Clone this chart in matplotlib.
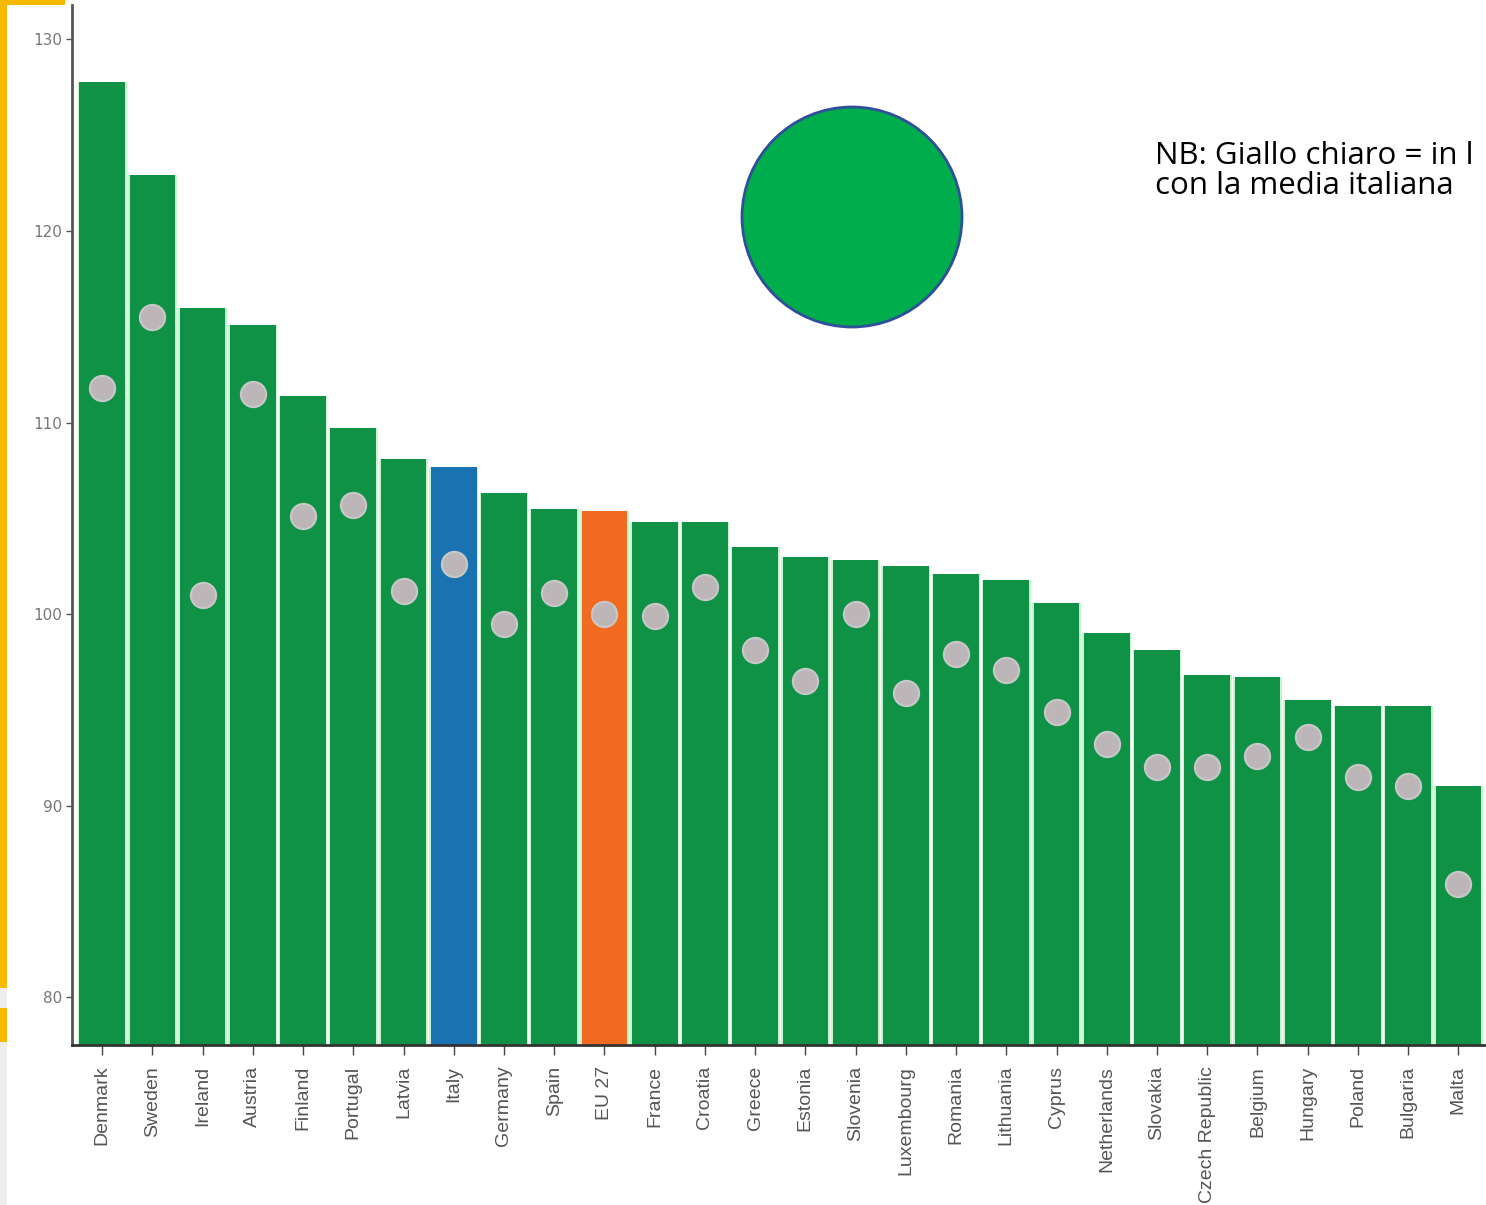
import matplotlib.pyplot as plt
from matplotlib.patches import Circle, Rectangle

countries = ['Denmark', 'Sweden', 'Ireland', 'Austria', 'Finland', 'Portugal', 'Latvia',
             'Italy', 'Germany', 'Spain', 'EU 27', 'France', 'Croatia', 'Greece', 'Estonia',
             'Slovenia', 'Luxembourg', 'Romania', 'Lithuania', 'Cyprus', 'Netherlands',
             'Slovakia', 'Czech Republic', 'Belgium', 'Hungary', 'Poland', 'Bulgaria', 'Malta']
bar_values = [127.8, 122.9, 116.0, 115.1, 111.4, 109.7, 108.1, 107.7, 106.3, 105.5, 105.4,
              104.8, 104.8, 103.5, 103.0, 102.8, 102.5, 102.1, 101.8, 100.6, 99.0, 98.1,
              96.8, 96.7, 95.5, 95.2, 95.2, 91.0]
dot_values = [111.8, 115.5, 101.0, 111.5, 105.1, 105.7, 101.2, 102.6, 99.5, 101.1, 100.0,
              99.9, 101.4, 98.1, 96.5, 100.0, 95.9, 97.9, 97.1, 94.9, 93.2, 92.0, 92.0,
              92.6, 93.6, 91.5, 91.0, 85.9]
y_ticks = [80, 90, 100, 110, 120, 130]

green = '#0f9146'
colors = [green] * len(countries)
colors[countries.index('Italy')] = '#1a72b0'
colors[countries.index('EU 27')] = '#f06a20'

W, H = 14.86, 12.05
fig = plt.figure(figsize=(W, H), dpi=100)
ax = fig.add_axes([72 / 1486, 1 - 1045 / 1205, 1 - 72 / 1486, (1045 - 5) / 1205])

x = list(range(len(countries)))
# mint outline underneath, coloured bars on top
ax.bar(x, bar_values, width=0.97, color='#c6f5d0', zorder=1)
ax.bar(x, bar_values, width=0.91, color=colors, zorder=2)
ax.scatter(x, dot_values, s=330, color='#bdb6b9', edgecolors='#c8c8c8', linewidths=1.5, zorder=3)

ax.set_xlim(-0.6, 27.55)
ax.set_ylim(77.5, 131.8)
ax.set_yticks(y_ticks)
ax.set_yticklabels([str(t) for t in y_ticks], fontsize=11, color='#777777')
ax.set_xticks(x)
ax.set_xticklabels(countries, rotation=90, fontsize=14, color='#555555', family='Liberation Sans')
ax.tick_params(axis='y', length=4, width=1, color='#555555', pad=3)
ax.tick_params(axis='x', length=7, width=1, color='#444444', pad=8)
for side in ['top', 'right']:
    ax.spines[side].set_visible(False)
ax.spines['left'].set_color('#555555')
ax.spines['left'].set_linewidth(2)
ax.spines['bottom'].set_color('#333333')
ax.spines['bottom'].set_linewidth(2)

# big green circle, placed in inches so it stays round
fig.add_artist(Circle((8.52, H - 2.17), 1.10, transform=fig.dpi_scale_trans,
                      facecolor='#00ad4d', edgecolor='#2f4f9a', linewidth=2))
# coloured edge strips on the left
fig.add_artist(Rectangle((0, 1 - 988 / 1205), 7 / 1486, 988 / 1205, transform=fig.transFigure,
                         color='#f7b900', lw=0))
fig.add_artist(Rectangle((0, 1 - 5 / 1205), 65 / 1486, 5 / 1205, transform=fig.transFigure,
                         color='#f7b900', lw=0))
fig.add_artist(Rectangle((0, 1 - 1008 / 1205), 7 / 1486, 20 / 1205, transform=fig.transFigure,
                         color='#eeeeee', lw=0))
fig.add_artist(Rectangle((0, 1 - 1042 / 1205), 7 / 1486, 34 / 1205, transform=fig.transFigure,
                         color='#f7b900', lw=0))
fig.add_artist(Rectangle((0, 0), 7 / 1486, 1 - 1042 / 1205, transform=fig.transFigure,
                         color='#eeeeee', lw=0))

fig.text(1155 / 1486, 1 - 141 / 1205, 'NB: Giallo chiaro = in l\ncon la media italiana',
         fontsize=22.5, family='Open Sans', va='top', ha='left', linespacing=0.98)

fig.savefig('out.png', dpi=100)
